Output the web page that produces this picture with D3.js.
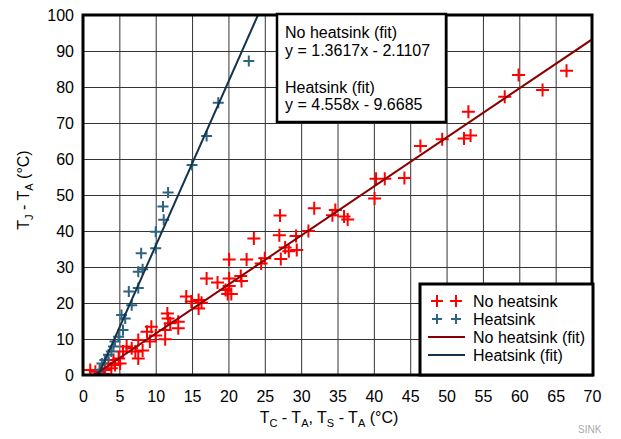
<!DOCTYPE html>
<html>
<head>
<meta charset="utf-8">
<script src="https://cdn.jsdelivr.net/npm/d3@7"></script>
<style>
  html, body { margin: 0; padding: 0; background: #fff; }
  svg { display: block; font-family: "Liberation Sans", Arial, Helvetica, sans-serif; }
</style>
</head>
<body>
<svg id="chart" width="621" height="439"></svg>
<script>
// ---- data ----
const noHsX = [66.5,59.9,63.2,58.0,53.0,52.4,53.3,49.4,46.4,40.3,41.5,44.2,40.1,35.9,36.4,31.8,27.1,34.7,34.3,31.0,29.3,27.0,23.5,27.8,29.4,28.3,27.2,25.0,24.5,22.5,20.1,21.7,21.8,20.1,20.1,18.5,17.0,19.6,20.4,19.9,14.2,14.9,15.9,16.3,15.9,11.6,11.7,13.1,12.0,13.1,11.3,9.4,11.3,9.2,8.8,7.6,6.0,6.7,7.2,7.6,5.5,4.9,5.1,4.4,3.9,3.5,3.0,2.3,1.0,1.7,2.8,4.2,8.2,10.0];
const noHsY = [84.5,83.3,79.2,77.3,73.1,65.7,66.5,65.5,63.6,54.5,54.5,54.7,49.0,44.0,43.2,46.3,44.3,45.8,44.4,40.0,38.6,38.8,37.9,35.4,34.7,34.4,32.2,32.4,31.0,32.1,32.1,27.5,26.1,26.8,24.7,25.7,26.8,23.6,22.5,22.5,21.8,20.4,20.8,20.1,18.5,17.1,15.7,14.8,14.4,13.0,12.5,13.4,9.9,9.3,12.0,9.7,7.9,7.4,6.5,4.6,6.5,4.6,3.2,2.8,1.9,3.2,1.4,0.9,1.4,0.9,0.3,4.2,6.8,11.0];
const hsX = [22.8,18.6,17.0,15.0,11.7,11.0,11.1,10.0,10.0,8.0,8.2,7.6,6.3,7.6,6.7,5.3,5.8,5.5,4.9,4.4,4.2,3.9,3.5,3.0,2.6,2.3,2.1];
const hsY = [87.2,75.6,66.4,58.3,50.7,46.8,43.1,39.8,35.2,33.8,29.4,28.7,23.2,24.2,19.4,16.7,15.7,12.5,10.6,9.3,7.9,6.5,5.6,4.2,3.2,1.4,0.3];
const fitNoHs = {slope: 1.3617, intercept: -2.1107};
const fitHs = {slope: 4.558, intercept: -9.6685};
const xTicks = [0,5,10,15,20,25,30,35,40,45,50,55,60,65,70];
const yTicks = [0,10,20,30,40,50,60,70,80,90,100];
const fitText = ["No heatsink (fit)", "y = 1.3617x - 2.1107", "", "Heatsink (fit)", "y = 4.558x - 9.6685"];
const legendLabels = ["No heatsink", "Heatsink", "No heatsink (fit)", "Heatsink (fit)"];

// ---- styles ----
const RED = "#ff0000", BLUE = "#2e6482", RED_FIT = "#8b0000", BLUE_FIT = "#14334a";

const svg = d3.select("#chart");
const x = d3.scaleLinear().domain([0,70]).range([83,592]);
const y = d3.scaleLinear().domain([0,100]).range([375,15]);

// grid
svg.append("g").attr("transform","translate(0,375)")
  .call(d3.axisBottom(x).tickValues(xTicks).tickSize(-360).tickFormat(""))
  .call(g => g.select(".domain").remove())
  .call(g => g.selectAll("line").attr("stroke","#333").attr("stroke-width",1));
svg.append("g").attr("transform","translate(83,0)")
  .call(d3.axisLeft(y).tickValues(yTicks).tickSize(-509).tickFormat(""))
  .call(g => g.select(".domain").remove())
  .call(g => g.selectAll("line").attr("stroke","#333").attr("stroke-width",1));

// tick labels
svg.append("g").attr("transform","translate(0,375)")
  .call(d3.axisBottom(x).tickValues(xTicks).tickSize(0).tickPadding(16))
  .call(g => g.select(".domain").remove())
  .call(g => g.selectAll("text").attr("font-size",16).attr("fill","#000").attr("font-family","Liberation Sans, Arial, sans-serif"));
svg.append("g").attr("transform","translate(83,0)")
  .call(d3.axisLeft(y).tickValues(yTicks).tickSize(0).tickPadding(9))
  .call(g => g.select(".domain").remove())
  .call(g => g.selectAll("text").attr("font-size",16).attr("fill","#000").attr("font-family","Liberation Sans, Arial, sans-serif"));

// plus markers
function plus(sel, xs, ys, color, h) {
  const pts = xs.map((v,i) => [x(v), y(ys[i])]);
  sel.append("path")
    .attr("d", pts.map(p => `M${p[0]-h},${p[1]}h${2*h}M${p[0]},${p[1]-h}v${2*h}`).join(""))
    .attr("stroke", color).attr("stroke-width", 2).attr("fill","none");
}
const clip = svg.append("clipPath").attr("id","pc").append("rect")
  .attr("x",83).attr("y",15).attr("width",509).attr("height",360);
const plot = svg.append("g").attr("clip-path","url(#pc)");
plus(plot, noHsX, noHsY, RED, 6.5);
plus(plot, hsX, hsY, BLUE, 5.5);

// fit lines
function fitLine(f, color) {
  const x0 = -f.intercept / f.slope;
  const x1 = Math.min(70, (100 - f.intercept) / f.slope);
  plot.append("line")
    .attr("x1", x(x0)).attr("y1", y(f.slope*x0 + f.intercept))
    .attr("x2", x(x1)).attr("y2", y(f.slope*x1 + f.intercept))
    .attr("stroke", color).attr("stroke-width", 2);
}
fitLine(fitNoHs, RED_FIT);
fitLine(fitHs, BLUE_FIT);

// frame
svg.append("rect").attr("x",83).attr("y",15).attr("width",509).attr("height",360)
  .attr("fill","none").attr("stroke","#000").attr("stroke-width",3);

// annotation box
svg.append("rect").attr("x",277).attr("y",14).attr("width",169).attr("height",108)
  .attr("fill","#fff").attr("stroke","#000").attr("stroke-width",2.5);
const ann = svg.append("text").attr("font-size",16).attr("fill","#000");
const annY = [38, 56, 74, 93, 110];
fitText.forEach((t,i) => { if (t) ann.append("tspan").attr("x",285).attr("y",annY[i]).text(t); });

// legend
svg.append("rect").attr("x",420).attr("y",284).attr("width",173).attr("height",91)
  .attr("fill","#fff").attr("stroke","#000").attr("stroke-width",3);
const legY = [301, 319, 337, 355];
const lg = svg.append("g");
[[RED,6],[BLUE,5]].forEach((c,i) => {
  [437, 456].forEach(cx => {
    lg.append("path").attr("d",`M${cx-c[1]},${legY[i]}h${2*c[1]}M${cx},${legY[i]-c[1]}v${2*c[1]}`)
      .attr("stroke",c[0]).attr("stroke-width",2).attr("fill","none");
  });
});
[RED_FIT, BLUE_FIT].forEach((c,i) => {
  lg.append("line").attr("x1",428).attr("x2",465).attr("y1",legY[i+2]).attr("y2",legY[i+2])
    .attr("stroke",c).attr("stroke-width",2);
});
legendLabels.forEach((t,i) => {
  lg.append("text").attr("x",473).attr("y",legY[i]+6).attr("font-size",16).attr("fill","#000").text(t);
});

// axis titles
const yt = svg.append("text").attr("transform","translate(29,190) rotate(-90)")
  .attr("text-anchor","middle").attr("font-size",16).attr("fill","#000");
yt.append("tspan").text("T");
yt.append("tspan").attr("font-size",11).attr("dy",4).text("J");
yt.append("tspan").attr("dy",-4).text(" - T");
yt.append("tspan").attr("font-size",11).attr("dy",4).text("A");
yt.append("tspan").attr("dy",-4).text(" (°C)");

const xt = svg.append("text").attr("x",329).attr("y",423)
  .attr("text-anchor","middle").attr("font-size",16).attr("fill","#000");
[["T",0],["C",1],[" - T",0],["A",1],[", T",0],["S",1],[" - T",0],["A",1],[" (°C)",0]].forEach(([t,s],i,arr) => {
  const ts = xt.append("tspan").text(t);
  if (s) ts.attr("font-size",11).attr("dy",4);
  else if (i>0 && arr[i-1][1]) ts.attr("dy",-4);
});

svg.append("text").attr("x",578).attr("y",433).attr("font-size",10).attr("fill","#aaa").text("SINK");
</script>
</body>
</html>
